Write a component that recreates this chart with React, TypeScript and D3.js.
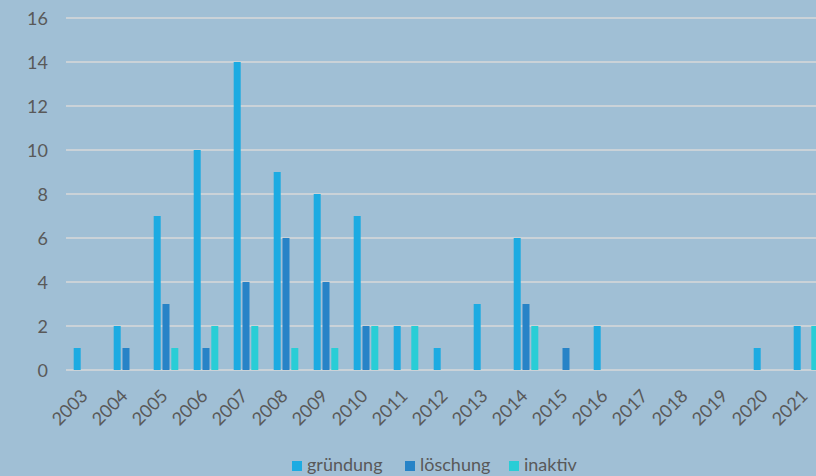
import React from "react";
import * as d3 from "d3";

const years = ["2003","2004","2005","2006","2007","2008","2009","2010","2011","2012","2013","2014","2015","2016","2017","2018","2019","2020","2021"];
const gruendung = [1,2,7,10,14,9,8,7,2,1,3,6,0,2,0,0,0,1,2];
const loeschung = [0,1,3,1,4,6,4,2,0,0,0,3,1,0,0,0,0,0,0];
const inaktiv = [0,0,1,2,2,1,1,2,2,0,0,2,0,0,0,0,0,0,2];
const seriesNames = ["gründung","löschung","inaktiv"];
const seriesColors = ["#1cabe2","#2783c7","#29cdd6"];
const yTicks = [0,2,4,6,8,10,12,14,16];

export default function App() {
  const W = 816, H = 476;
  const left = 66, bandW = 40;
  const x = d3.scaleBand<string>().domain(years).range([left, left + bandW * years.length]).paddingInner(0).paddingOuter(0);
  const y = d3.scaleLinear().domain([0, 16]).range([370, 18]);
  const barW = 7, step = 8.8;
  const data = [gruendung, loeschung, inaktiv];
  const font = "Lato, 'Open Sans', sans-serif";
  const legendX = [292, 405, 509];
  return (
    <svg width={W} height={H} style={{ position: "absolute", left: 0, top: 0, display: "block" }} fontFamily={font}>
      <rect x={0} y={0} width={W} height={H} fill="#a0bfd5" />
      {yTicks.map((t) => (
        <g key={t}>
          <line x1={left} x2={W} y1={y(t)} y2={y(t)} stroke="#d9d9d9" strokeWidth={1.5} />
          <text x={48} y={y(t) + 6.5} textAnchor="end" fontSize={18} fill="#595959">{t}</text>
        </g>
      ))}
      {years.map((yr, i) => {
        const c = (x(yr) as number) + bandW / 2;
        const gStart = c - (3 * barW + 2 * (step - barW)) / 2;
        return (
          <g key={yr}>
            {data.map((s, k) => s[i] > 0 ? (
              <rect key={k} x={gStart + k * step} y={y(s[i])} width={barW} height={y(0) - y(s[i])} fill={seriesColors[k]} />
            ) : null)}
            <text transform={`translate(${c + 3},397) rotate(-45)`} textAnchor="end" fontSize={18} fill="#595959">{yr}</text>
          </g>
        );
      })}
      {seriesNames.map((n, k) => (
        <g key={n}>
          <rect x={legendX[k]} y={461} width={10} height={10} fill={seriesColors[k]} />
          <text x={legendX[k] + 15} y={471} fontSize={18} fill="#595959">{n}</text>
        </g>
      ))}
    </svg>
  );
}
